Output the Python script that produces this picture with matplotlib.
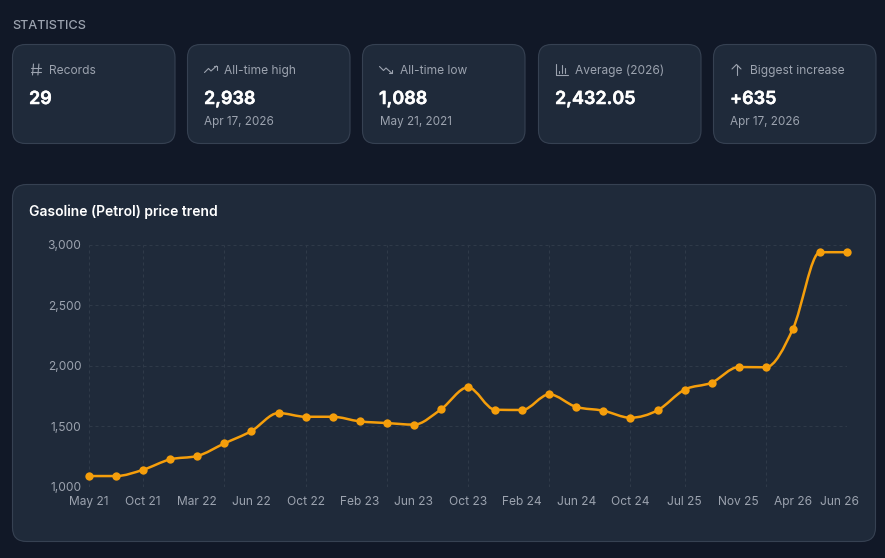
import numpy as np
import matplotlib
matplotlib.use("Agg")
import matplotlib.pyplot as plt
import matplotlib.patheffects as pe
from matplotlib.patches import FancyBboxPatch, PathPatch
from matplotlib.path import Path
from matplotlib.transforms import ScaledTranslation
from matplotlib.ticker import FuncFormatter

plt.rcParams['font.family'] = ['Inter', 'DejaVu Sans']

# ---- data ----
prices = [1088, 1088, 1140, 1226, 1254, 1358, 1460, 1609, 1578, 1578,
          1540, 1526, 1513, 1639, 1821, 1636, 1634, 1763, 1659, 1628,
          1570, 1631, 1802, 1860, 1989, 1987, 2303, 2938, 2938]
label_idx = [0, 2, 4, 6, 8, 10, 12, 14, 16, 18, 20, 22, 24, 26, 28]
label_txt = ['May 21', 'Oct 21', 'Mar 22', 'Jun 22', 'Oct 22', 'Feb 23', 'Jun 23', 'Oct 23',
             'Feb 24', 'Jun 24', 'Oct 24', 'Jul 25', 'Nov 25', 'Apr 26', 'Jun 26']
grid_idx = [0, 2, 5, 8, 11, 14, 17, 20, 22, 25, 28]
y_ticks = [1000, 1500, 2000, 2500, 3000]
stat_titles = ['Records', 'All-time high', 'All-time low', 'Average (2026)', 'Biggest increase']
stat_values = ['29', '2,938', '1,088', '2,432.05', '+635']
stat_subs = ['', 'Apr 17, 2026', 'May 21, 2021', '', 'Apr 17, 2026']

BG = '#111827'
CARD = '#1f2a3a'
BORDER = '#364152'
GRID = '#2f3a49'
MUTED = '#9ca3af'
ORANGE = '#f59e0b'
W, H = 885, 558
fig = plt.figure(figsize=(W / 100, H / 100), dpi=100, facecolor=BG)

# overlay in pixel coordinates for the dashboard furniture
ui = fig.add_axes([0, 0, 1, 1], zorder=0)
ui.set_xlim(0, W)
ui.set_ylim(H, 0)
ui.axis('off')
px = 0.72


def card(x0, y0, x1, y1, r):
    ui.add_patch(FancyBboxPatch((x0 + r, y0 + r), x1 - x0 - 2 * r, y1 - y0 - 2 * r,
                                boxstyle=f'round,pad={r},rounding_size={r}',
                                fc=CARD, ec=BORDER, lw=0.8))


def ic(xs, ys, ox, oy):
    ui.plot(np.array(xs) + ox, np.array(ys) + oy, color=MUTED, lw=0.8,
            solid_capstyle='round', solid_joinstyle='round')


def icon_hash(ox, oy):
    ic([-2.2, -3.2], [-5.5, 5.5], ox, oy)
    ic([3.2, 2.2], [-5.5, 5.5], ox, oy)
    ic([-5, 5], [-2, -2], ox, oy)
    ic([-5, 5], [2, 2], ox, oy)


def icon_up(ox, oy):
    ic([-6.5, -2.5, 0, 5.5], [3, -1, 1.5, -3.5], ox, oy)
    ic([2.5, 6, 6], [-3.5, -3.5, 0], ox, oy)


def icon_down(ox, oy):
    ic([-6.5, -2.5, 0, 5.5], [-3, 1, -1.5, 3.5], ox, oy)
    ic([2.5, 6, 6], [3.5, 3.5, 0], ox, oy)


def icon_bars(ox, oy):
    ic([-5.5, -5.5, 6], [-5.5, 5.5, 5.5], ox, oy)
    ic([-2.5, -2.5], [1, 3.5], ox, oy)
    ic([0.5, 0.5], [-4.5, 3.5], ox, oy)
    ic([3.5, 3.5], [-1.5, 3.5], ox, oy)


def icon_arrow(ox, oy):
    ic([0, 0], [-5, 5], ox, oy)
    ic([-4.5, 0, 4.5], [-0.5, -5, -0.5], ox, oy)


ui.text(12, 26, 'STATISTICS', color=MUTED, fontsize=12.7 * px, va='center', ha='left',
        fontweight='medium')

card_x = [12.5, 187.5, 362.5, 538.5, 713.5]
card_w = 162.5
icons = [icon_hash, icon_up, icon_down, icon_bars, icon_arrow]
icon_dx = [23.2, 23.5, 23.5, 23, 23]
label_dx = [36.5, 37, 37, 36.5, 36.5]
for x, t, v, s, fn, idx, ldx in zip(card_x, stat_titles, stat_values, stat_subs, icons, icon_dx, label_dx):
    card(x, 44.5, x + card_w, 143.5, 13)
    fn(x + idx, 69.5)
    ui.text(x + ldx, 71.2, t, color=MUTED, fontsize=12 * px, va='center', ha='left')
    vt = ui.text(x + 16.5, 99.5, v, color='white', fontsize=18 * px, va='center', ha='left', fontweight='semibold')
    vt.set_path_effects([pe.withStroke(linewidth=0.35, foreground='white')])
    if s:
        ui.text(x + 17, 121.5, s, color=MUTED, fontsize=11.7 * px, va='center', ha='left')

card(12.5, 184.5, 875.5, 541.5, 14)
ui.text(29, 212, 'Gasoline (Petrol) price trend', color='white', fontsize=13.9 * px, va='center',
        ha='left', fontweight='semibold')

# ---- chart ----
ax = fig.add_axes([89 / W, 1 - 486.7 / H, (847 - 89) / W, (486.7 - 244.7) / H], zorder=1)
ax.patch.set_alpha(0)
x = np.arange(len(prices))
y = np.array(prices, float)
ax.set_xlim(0, len(prices) - 1)
ax.set_ylim(1000, 3000)
for sp in ax.spines.values():
    sp.set_visible(False)
ax.set_yticks(y_ticks)
ax.yaxis.set_major_formatter(FuncFormatter(lambda v, _: f'{int(v):,}'))
ax.set_xticks(label_idx)
ax.set_xticklabels(label_txt)
ax.xaxis.remove_overlapping_locs = False
ax.set_xticks(grid_idx, minor=True)
ax.tick_params(axis='both', which='both', length=0, colors=MUTED, labelsize=12 * px)
ax.tick_params(axis='x', pad=6.5)
ax.tick_params(axis='y', pad=5.5)
ax.grid(False)
ax.yaxis.grid(True, color=GRID, lw=0.72, ls=(0, (3, 3)))
ax.xaxis.grid(True, which='minor', color=GRID, lw=0.72, ls=(0, (3, 3)))
ax.set_axisbelow(True)
last = ax.get_xticklabels()[-1]
last.set_transform(last.get_transform() + ScaledTranslation(-8 / 100, 0, fig.dpi_scale_trans))

# monotone cubic (Bezier segments through the data points)
d = np.diff(y)
m = np.zeros_like(y)
for i in range(1, len(y) - 1):
    if d[i - 1] * d[i] > 0:
        m[i] = 2 * np.sign(d[i]) * min(abs(d[i - 1]), abs(d[i]), 0.25 * abs(d[i - 1] + d[i]))
m[0] = (3 * d[0] - m[1]) / 2
m[-1] = (3 * d[-1] - m[-2]) / 2
verts = [(x[0], y[0])]
codes = [Path.MOVETO]
for i in range(len(y) - 1):
    verts += [(x[i] + 1 / 3, y[i] + m[i] / 3), (x[i + 1] - 1 / 3, y[i + 1] - m[i + 1] / 3), (x[i + 1], y[i + 1])]
    codes += [Path.CURVE4] * 3
ax.add_patch(PathPatch(Path(verts, codes), fc='none', ec=ORANGE, lw=1.8, clip_on=False, zorder=3))
ax.plot(x, y, ls='none', marker='o', ms=6, mfc=ORANGE, mec=ORANGE, mew=0, clip_on=False, zorder=4)

fig.savefig('out.png', dpi=100, facecolor=BG)
